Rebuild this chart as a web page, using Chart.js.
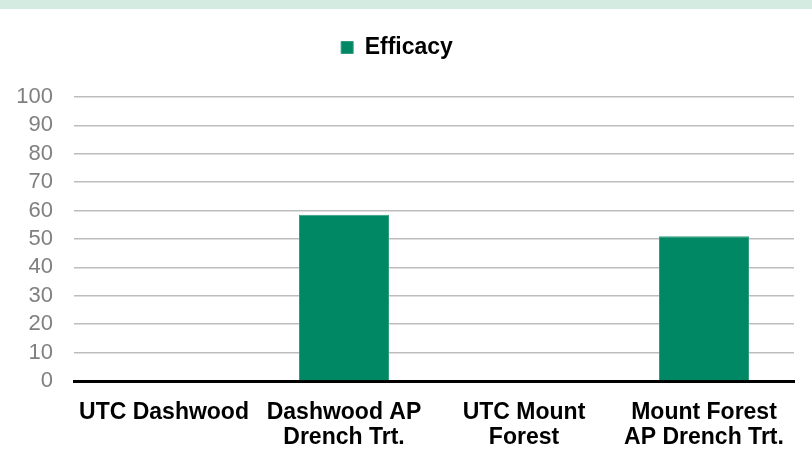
<!DOCTYPE html>
<html>
<head>
<meta charset="utf-8">
<script src="https://cdn.jsdelivr.net/npm/chart.js@4"></script>
<style>
  html, body { margin: 0; padding: 0; background: #ffffff; }
  #wrap { position: relative; width: 812px; height: 457px; }
  #band { position: absolute; left: 0; top: 0; width: 812px; height: 9px; background: #d4ebe2; }
  canvas { position: absolute; left: 0; top: 0; }
</style>
</head>
<body>
<div id="wrap">
  <canvas id="c" width="812" height="457"></canvas>
  <div id="band"></div>
</div>
<script>
const categories = [
  ["UTC Dashwood"],
  ["Dashwood AP", "Drench Trt."],
  ["UTC Mount", "Forest"],
  ["Mount Forest", "AP Drench Trt."]
];
const seriesName = "Efficacy";
const efficacy = [0, 58.5, 0, 51];
const yTicks = [0, 10, 20, 30, 40, 50, 60, 70, 80, 90, 100];

const FONT = "'Liberation Sans', Arial, sans-serif";

new Chart(document.getElementById('c'), {
  type: 'bar',
  data: {
    labels: categories,
    datasets: [{
      label: seriesName,
      data: efficacy,
      backgroundColor: '#008864',
      borderColor: '#2f9c7d',
      borderWidth: 1,
      categoryPercentage: 1.0,
      barPercentage: 0.5
    }]
  },
  options: {
    responsive: false,
    animation: false,
    devicePixelRatio: 1,
    layout: { padding: { top: 26, right: 18, bottom: 0, left: 0 } },
    plugins: {
      legend: {
        display: true,
        position: 'top',
        weight: 1000,
        labels: {
          font: { family: FONT, size: 23, weight: 'bold' },
          color: '#000000',
          boxWidth: 12,
          boxHeight: 12,
          padding: 10
        }
      },
      subtitle: {
        display: true,
        text: '',
        position: 'top',
        weight: 500,
        font: { family: FONT, size: 20 },
        padding: { top: 0, bottom: 4 }
      },
      tooltip: { enabled: false }
    },
    scales: {
      x: {
        grid: { display: false, drawTicks: false },
        border: { display: true, color: '#000000', width: 3 },
        ticks: {
          font: { family: FONT, size: 23, weight: 'bold', lineHeight: 1.1 },
          color: '#000000',
          padding: 19,
          maxRotation: 0,
          autoSkip: false
        },
        afterFit: (s) => { s.height = 76; }
      },
      y: {
        min: 0,
        max: 100,
        afterBuildTicks: (s) => { s.ticks = yTicks.map(v => ({ value: v })); },
        grid: { color: '#bdbdbd', lineWidth: 1.5, drawTicks: false },
        border: { display: false },
        ticks: {
          font: { family: FONT, size: 22, lineHeight: 1.0 },
          color: '#808080',
          padding: 21,
          autoSkip: false
        },
        afterFit: (s) => { s.width = 74; }
      }
    }
  }
});
</script>
</body>
</html>
